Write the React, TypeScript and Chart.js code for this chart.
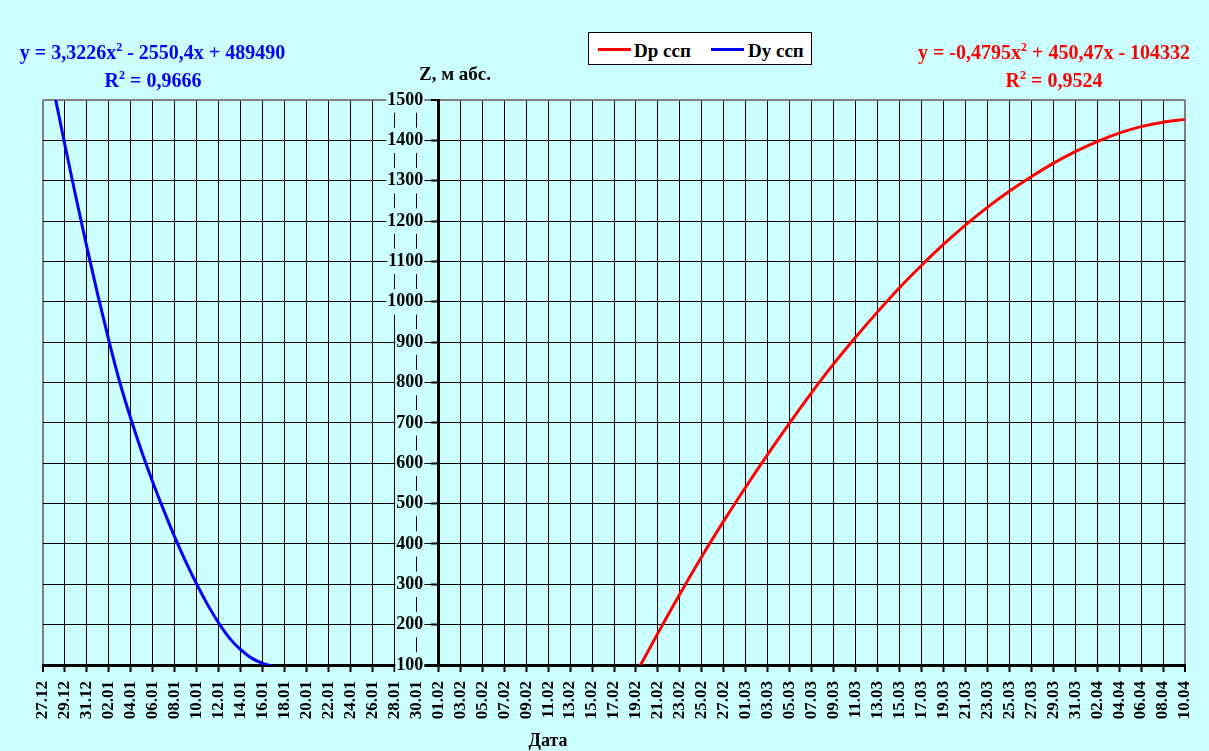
import React, { useEffect, useRef } from "react";
import { Chart, registerables } from "chart.js";

Chart.register(...registerables);

// Tick labels along the date axis (every 2 days, value = day index from 27.12)
const tickLabels = [
  "27.12", "29.12", "31.12", "02.01", "04.01", "06.01", "08.01", "10.01", "12.01",
  "14.01", "16.01", "18.01", "20.01", "22.01", "24.01", "26.01", "28.01", "30.01",
  "01.02", "03.02", "05.02", "07.02", "09.02", "11.02", "13.02", "15.02", "17.02",
  "19.02", "21.02", "23.02", "25.02", "27.02", "01.03", "03.03", "05.03", "07.03",
  "09.03", "11.03", "13.03", "15.03", "17.03", "19.03", "21.03", "23.03", "25.03",
  "27.03", "29.03", "31.03", "02.04", "04.04", "06.04", "08.04", "10.04",
];

// Dy ссп (blue) — day index and Z value
const blueDays = [0, 1, 2, 3, 4, 5, 6, 7, 8, 9, 10, 11, 12, 13, 14, 15, 16, 17, 18, 19, 20, 21];
const blueValues = [1660, 1521, 1388, 1259, 1135, 1016, 904, 800, 710, 628, 553, 483, 417, 356, 300, 249, 204, 166, 138, 117, 104, 97];

// Dp ссп (red)
const redDays = [54, 56, 58, 60, 62, 64, 66, 68, 70, 72, 74, 76, 78, 80, 82, 84, 86, 88, 90, 92, 94, 96, 98, 100, 102, 104];
const redValues = [79, 179, 276, 369, 457, 541, 622, 700, 775, 846, 912, 975, 1035, 1090, 1142, 1190, 1234, 1274, 1310, 1343, 1372, 1397, 1418, 1434, 1445, 1452];

const yMin = 100;
const yMax = 1500;
const yStep = 100;
const xMin = 0;
const xMax = 104;
const axisCrossDay = 36; // 01.02

const FONT = "'Liberation Serif', 'Times New Roman', serif";
const BG = "#CCFFFF";
const Y_LABEL_GAP = 15;

// Moves the labels of the value axis (placed at 01.02) to the left of the axis line
const shiftYLabels = {
  id: "shiftYLabels",
  beforeDraw(chart: any) {
    const s: any = chart.scales.y;
    if (!s || !s.getLabelItems) return;
    const items = s.getLabelItems(chart.chartArea);
    items.forEach((it: any) => {
      if (it._shifted) return;
      it._shifted = true;
      it.options.translation[0] -= Y_LABEL_GAP;
    });
  },
};

export default function App() {
  const canvasRef = useRef<HTMLCanvasElement | null>(null);

  useEffect(() => {
    const canvas = canvasRef.current;
    if (!canvas) return;
    const chart = new Chart(canvas, {
      type: "line",
      data: {
        datasets: [
          {
            label: "Dp ссп",
            data: redDays.map((d, i) => ({ x: d, y: redValues[i] })),
            borderColor: "#FF0000",
            backgroundColor: "#FF0000",
            borderWidth: 3,
            pointRadius: 0,
            cubicInterpolationMode: "monotone",
            fill: false,
          },
          {
            label: "Dy ссп",
            data: blueDays.map((d, i) => ({ x: d, y: blueValues[i] })),
            borderColor: "#0000FF",
            backgroundColor: "#0000FF",
            borderWidth: 3,
            pointRadius: 0,
            cubicInterpolationMode: "monotone",
            fill: false,
          },
        ],
      },
      options: {
        animation: false,
        responsive: false,
        maintainAspectRatio: false,
        layout: { padding: { left: 43, right: 24, top: 100, bottom: 0 } },
        plugins: {
          legend: { display: false },
          tooltip: { enabled: false },
        },
        scales: {
          x: {
            type: "linear",
            min: xMin,
            max: xMax,
            afterFit: (s: any) => {
              s.height = 86;
              s.paddingLeft = 0;
              s.paddingRight = 0;
            },
            grid: {
              color: (ctx: any) =>
                ctx.tick && (ctx.tick.value === xMin || ctx.tick.value === xMax) ? "#808080" : "#000000",
              lineWidth: (ctx: any) =>
                ctx.tick && (ctx.tick.value === xMin || ctx.tick.value === xMax) ? 2 : 1,
              tickLength: 7,
              tickWidth: 2,
              tickColor: "#000000",
            },
            border: { display: true, width: 3, color: "#000000" },
            ticks: {
              stepSize: 2,
              autoSkip: false,
              maxRotation: 90,
              minRotation: 90,
              padding: 9,
              color: "#000000",
              font: { family: FONT, size: 17, weight: "bold" },
              callback: (v: any) => tickLabels[Math.round(Number(v) / 2)] ?? "",
            },
          },
          y: {
            type: "linear",
            min: yMin,
            max: yMax,
            position: { x: axisCrossDay } as any,
            grid: {
              color: (ctx: any) => (ctx.tick && ctx.tick.value === yMax ? "#808080" : "#000000"),
              lineWidth: (ctx: any) => (ctx.tick && ctx.tick.value === yMax ? 2 : 1),
              tickLength: 6,
              tickWidth: 2,
              tickColor: "#000000",
            },
            border: { display: true, width: 3, color: "#000000" },
            ticks: {
              stepSize: yStep,
              padding: 9,
              color: "#000000",
              font: { family: FONT, size: 18, weight: "bold" },
              showLabelBackdrop: true,
              backdropColor: BG,
              backdropPadding: { x: 1, y: 2 },
              callback: (v: any) => String(v),
            } as any,
          },
        },
      },
      plugins: [shiftYLabels],
    });
    return () => chart.destroy();
  }, []);

  const boldText: React.CSSProperties = {
    position: "absolute",
    fontFamily: FONT,
    fontWeight: "bold",
    whiteSpace: "nowrap",
    transform: "translate(-50%, -50%)",
    lineHeight: 1,
  };
  const sup: React.CSSProperties = { fontSize: "12px", position: "relative", top: "-8px" };

  return (
    <div style={{ position: "fixed", left: 0, top: 0, width: 1209, height: 751, background: BG, overflow: "hidden" }}>
      <canvas ref={canvasRef} width={1209} height={751} style={{ position: "absolute", left: 0, top: 0 }} />

      <div style={{ ...boldText, left: 152.5, top: 51.7, color: "#0000FF", fontSize: 20 }}>
        y = 3,3226x<span style={sup}>2</span> - 2550,4x + 489490
      </div>
      <div style={{ ...boldText, left: 153, top: 80, color: "#0000FF", fontSize: 20 }}>
        R<span style={sup}>2</span> = 0,9666
      </div>

      <div style={{ ...boldText, left: 1054, top: 51.7, color: "#FF0000", fontSize: 20 }}>
        y = -0,4795x<span style={sup}>2</span> + 450,47x - 104332
      </div>
      <div style={{ ...boldText, left: 1054, top: 80, color: "#FF0000", fontSize: 20 }}>
        R<span style={sup}>2</span> = 0,9524
      </div>

      <div style={{ ...boldText, left: 455, top: 73.3, color: "#000000", fontSize: 19 }}>Z, м абс.</div>

      <div
        style={{
          position: "absolute",
          left: 588,
          top: 32,
          width: 224,
          height: 33,
          boxSizing: "border-box",
          border: "1px solid #000000",
          background: "#FFFFFF",
        }}
      >
        <div style={{ position: "absolute", left: 9, top: 15, width: 33, height: 3, background: "#FF0000" }} />
        <div style={{ ...boldText, transform: "translateY(-50%)", left: 45, top: 16.5, fontSize: 19 }}>Dp ссп</div>
        <div style={{ position: "absolute", left: 122, top: 15, width: 33, height: 3, background: "#0000FF" }} />
        <div style={{ ...boldText, transform: "translateY(-50%)", left: 159, top: 16.5, fontSize: 19 }}>Dy ссп</div>
      </div>

      <div style={{ ...boldText, left: 548, top: 740, color: "#000000", fontSize: 18 }}>Дата</div>
    </div>
  );
}
